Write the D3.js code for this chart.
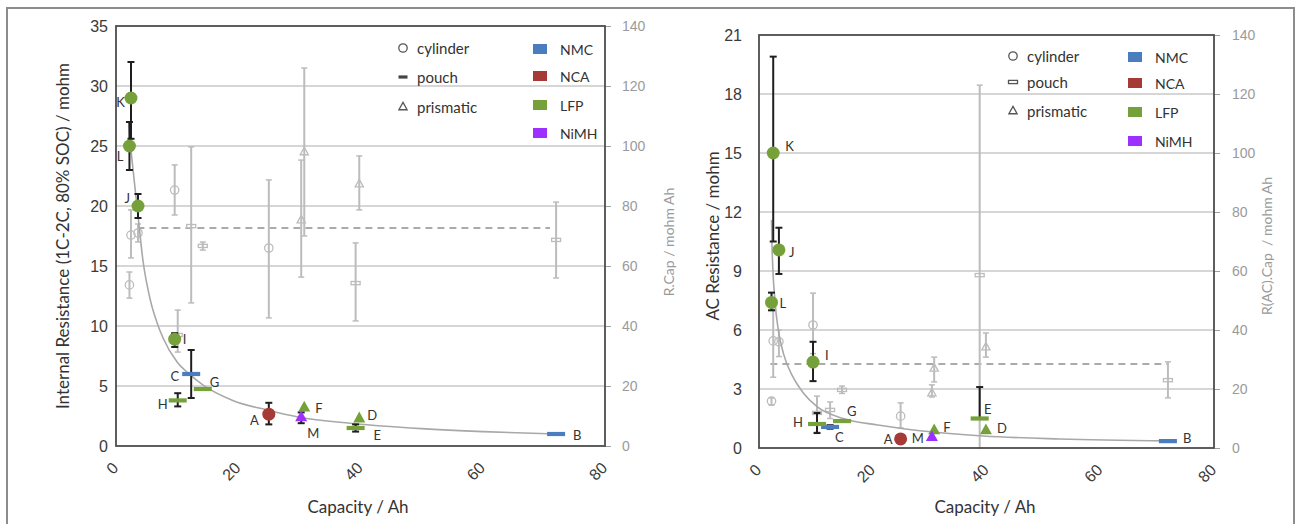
<!DOCTYPE html>
<html>
<head>
<meta charset="utf-8">
<script src="https://cdn.jsdelivr.net/npm/d3@7"></script>
<style>
body { margin: 0; background: #fff; }
svg { font-family: Lato, "Open Sans", sans-serif; }
</style>
</head>
<body>
<div id="chart"></div>
<script>
// cells, chemistry and format
var cells = ["A", "B", "C", "D", "E", "F", "G", "H", "I", "J", "K", "L", "M"];
var chemistry = ["NCA", "NMC", "NMC", "LFP", "LFP", "LFP", "LFP", "LFP", "LFP", "LFP", "LFP", "LFP", "NiMH"];
var format = ["cylinder", "pouch", "pouch", "prismatic", "pouch", "prismatic", "pouch", "pouch", "cylinder", "cylinder", "cylinder", "cylinder", "prismatic"];

// left: internal resistance (1C-2C, 80% SOC)
var irCap = [25, 72, 12.3, 39.8, 39.2, 30.8, 14.2, 10.1, 9.6, 3.6, 2.45, 2.2, 30.3];
var irVal = [2.65, 1.0, 6.0, 2.3, 1.5, 3.2, 4.75, 3.8, 8.9, 20, 29, 25, 2.4];
var irLo = [1.8, null, 4.0, null, 1.2, null, null, 3.3, 8.25, 19, 25.6, 23, 1.9];
var irHi = [3.6, null, 8.0, null, 1.8, null, null, 4.4, 9.4, 21, 32, 27, 2.8];
var irRcap = [66, 68.7, 73.3, 87.3, 54.3, 98, 66.7, 37, 85.3, 71, 70.3, 53.7, 75.3];
var irRcapLo = [42.7, 56, 47.7, 78.7, 41.7, 70, 65.3, 31.3, 77, 68, 62.7, 49.3, 56.3];
var irRcapHi = [88.7, 81.3, 99.7, 96.7, 67.7, 126, 68, 45.3, 93.7, 74, 78.7, 58, 95.3];
var irMean = [3.5, 71, 72.7]; // from capacity, to capacity, mean R.Cap
var irFitCap = [2.1, 2.4, 2.9, 3.6, 4.4, 5.6, 6.7, 7.7, 10, 12.1, 14.2, 19.1, 24.7, 30, 38.3, 50, 60, 72];
var irFitVal = [27, 25, 22.5, 19.2, 15.5, 12.2, 10.3, 9.0, 7.0, 5.95, 5.1, 3.8, 3.0, 2.4, 1.9, 1.45, 1.2, 1.0];

// right: AC resistance
var acCap = [24.9, 71.9, 12.5, 39.9, 38.8, 30.8, 14.6, 10.2, 9.5, 3.5, 2.5, 2.2, 30.4];
var acVal = [0.46, 0.35, 1.07, 0.9, 1.5, 0.9, 1.37, 1.22, 4.37, 10.07, 15, 7.4, 0.56];
var acLo = [null, null, 0.98, null, 1.5, null, null, 0.76, 3.4, 8.85, 10.5, 7.0, null];
var acHi = [null, null, 1.16, null, 3.1, null, null, 1.78, 5.4, 11.2, 19.9, 7.9, null];
var acRcap = [10.8, 23, 12.9, 34.2, 58.6, 27, 19.7, 11.9, 41.7, 36, 36.3, 15.9, 18.6];
var acRcapLo = [6.8, 17, 10, 30.8, 0, 22.4, 18.5, 5.4, 32, 31, 24, 14.5, 17.3];
var acRcapHi = [15.3, 29.2, 15.6, 39, 123, 30.8, 21, 17.6, 52.5, 40, 47, 17, 21.4];
var acMean = [2.0, 71.9, 28.5];
var acFitCap = [2.2, 2.3, 2.8, 3.4, 4.3, 6.0, 7.8, 10.2, 14.8, 20.9, 30.6, 39.4, 52.9, 72];
var acFitVal = [11.6, 10.2, 7.5, 6.0, 4.8, 3.6, 2.8, 2.1, 1.5, 1.17, 0.81, 0.61, 0.46, 0.36];

// axes
var xTicks = [0, 20, 40, 60, 80];
var rTicks = [0, 20, 40, 60, 80, 100, 120, 140];
var irTicks = [0, 5, 10, 15, 20, 25, 30, 35];
var acTicks = [0, 3, 6, 9, 12, 15, 18, 21];

var chemNames = ["NMC", "NCA", "LFP", "NiMH"];
var formatNames = ["cylinder", "pouch", "prismatic"];
var colors = { NMC: "#4a7dbd", NCA: "#a63a37", LFP: "#76a13a", NiMH: "#9d30ff" };

// label offsets (px from marker centre) - layout only
var irLabels = {
	A: [-10, 6, "end"], B: [17, 1, "start"], C: [-12, 2, "end"], D: [8, -3, "start"],
	E: [18, 7, "start"], F: [11, 0, "start"], G: [7, -7, "start"], H: [-10, 4, "end"],
	I: [8, 0, "start"], J: [-8, -8, "end"], K: [-6, 4, "end"], L: [-6, 10, "end"], M: [6, 16, "start"]
};
var acLabels = {
	A: [-8, 0, "end"], B: [15, -3, "start"], C: [5, 10, "start"], D: [11, -2, "start"],
	E: [8, -10, "middle"], F: [9, -3, "start"], G: [5, -10, "start"], H: [-14, -2, "end"],
	I: [12, -7, "start"], J: [10, 2, "start"], K: [12, -7, "start"], L: [8, 1, "start"], M: [-8, 1, "end"]
};

var svg = d3.select("#chart").append("svg")
	.attr("width", 1301)
	.attr("height", 524);

// outer frame
svg.append("rect")
	.attr("x", 7).attr("y", 8)
	.attr("width", 1287).attr("height", 530)
	.attr("fill", "none")
	.attr("stroke", "#8c8c8c")
	.attr("stroke-width", 2);

function drawPanel(p) {
	var g = svg.append("g");
	var x = d3.scaleLinear().domain([0, 80]).range([p.x0, p.x1]);
	var y = d3.scaleLinear().domain([0, p.yMax]).range([p.y1, p.y0]);
	var yr = d3.scaleLinear().domain([0, 140]).range([p.y1, p.y0]);

	// gridlines
	g.append("g").selectAll("line")
		.data(p.yTicks.slice(1, -1))
		.join("line")
		.attr("x1", p.x0).attr("x2", p.x1)
		.attr("y1", d => y(d)).attr("y2", d => y(d))
		.attr("stroke", "#c9c9c9").attr("stroke-width", 1.5);

	// left axis labels
	var yAxis = d3.axisLeft(y).tickValues(p.yTicks).tickSize(0).tickPadding(p.leftPad);
	var ya = g.append("g").attr("transform", "translate(" + p.x0 + ",0)").call(yAxis);
	ya.select(".domain").remove();
	ya.selectAll("text").attr("fill", "#3a3a3a").style("font-size", "16px");

	// right axis
	var rAxis = d3.axisRight(yr).tickValues(rTicks).tickSize(6).tickPadding(p.rightPad - 6);
	var ra = g.append("g").attr("transform", "translate(" + p.x1 + ",0)").call(rAxis);
	ra.select(".domain").remove();
	ra.selectAll("line").attr("stroke", "#a0a0a0");
	ra.selectAll("text").attr("fill", "#9a9a9a").style("font-size", "14px");

	// bottom axis, rotated labels
	var xAxis = d3.axisBottom(x).tickValues(xTicks).tickSize(0);
	var xa = g.append("g").attr("transform", "translate(0," + p.y1 + ")").call(xAxis);
	xa.select(".domain").remove();
	xa.selectAll("text")
		.attr("fill", "#3a3a3a").style("font-size", "16px")
		.attr("text-anchor", "end")
		.attr("dy", null)
		.attr("y", 0)
		.attr("dominant-baseline", "central")
		.attr("transform", "translate(-1,19) rotate(-45)");

	// mean R.Cap dashed line
	g.append("line")
		.attr("x1", x(p.mean[0])).attr("x2", x(p.mean[1]))
		.attr("y1", yr(p.mean[2])).attr("y2", yr(p.mean[2]))
		.attr("stroke", "#ababab").attr("stroke-width", 2)
		.attr("stroke-dasharray", "7,5");

	// grey R.Cap error bars and markers
	var grey = "#bcbcbc";
	cells.forEach(function(c, i) {
		var cx = x(p.cap[i]);
		g.append("line")
			.attr("x1", cx).attr("x2", cx)
			.attr("y1", yr(p.rLo[i])).attr("y2", yr(p.rHi[i]))
			.attr("stroke", grey).attr("stroke-width", 2);
		[p.rLo[i], p.rHi[i]].forEach(function(v) {
			g.append("line")
				.attr("x1", cx - 3).attr("x2", cx + 3)
				.attr("y1", yr(v)).attr("y2", yr(v))
				.attr("stroke", grey).attr("stroke-width", 1.5);
		});
		drawShape(g, format[i], cx, yr(p.rcap[i]), "none", grey, false);
	});

	// fit curve
	var line = d3.line()
		.x(function(d) { return x(d[0]); })
		.y(function(d) { return y(d[1]); })
		.curve(d3.curveMonotoneX);
	g.append("path")
		.datum(d3.zip(p.fitCap, p.fitVal))
		.attr("d", line)
		.attr("fill", "none")
		.attr("stroke", "#a8a8a8")
		.attr("stroke-width", 1.6);

	// black error bars
	cells.forEach(function(c, i) {
		if (p.lo[i] == null) return;
		var cx = x(p.cap[i]);
		g.append("line")
			.attr("x1", cx).attr("x2", cx)
			.attr("y1", y(p.lo[i])).attr("y2", y(p.hi[i]))
			.attr("stroke", "#1e1e1e").attr("stroke-width", 2);
		[p.lo[i], p.hi[i]].forEach(function(v) {
			g.append("line")
				.attr("x1", cx - 3.5).attr("x2", cx + 3.5)
				.attr("y1", y(v)).attr("y2", y(v))
				.attr("stroke", "#1e1e1e").attr("stroke-width", 2);
		});
	});

	// coloured markers and labels
	cells.forEach(function(c, i) {
		var cx = x(p.cap[i]), cy = y(p.val[i]);
		drawShape(g, format[i], cx, cy, colors[chemistry[i]], "none", true);
		var lb = p.labels[c];
		g.append("text")
			.attr("x", cx + lb[0]).attr("y", cy + lb[1])
			.attr("text-anchor", lb[2])
			.attr("dominant-baseline", "central")
			.attr("fill", "#333")
			.style("font-size", "13px")
			.text(c);
	});

	// plot frame
	g.append("rect")
		.attr("x", p.x0).attr("y", p.y0)
		.attr("width", p.x1 - p.x0).attr("height", p.y1 - p.y0)
		.attr("fill", "none")
		.attr("stroke", "#4d4d4d").attr("stroke-width", 1.8);

	// axis titles
	g.append("text")
		.attr("transform", "translate(" + p.titleLeft[0] + "," + p.titleLeft[1] + ") rotate(-90)")
		.attr("text-anchor", "middle").attr("dominant-baseline", "central")
		.attr("fill", "#333").style("font-size", "17px")
		.text(p.yTitle);
	g.append("text")
		.attr("transform", "translate(" + p.titleRight[0] + "," + p.titleRight[1] + ") rotate(-90)")
		.attr("text-anchor", "middle").attr("dominant-baseline", "central")
		.attr("fill", "#9a9a9a").style("font-size", "14px")
		.style("white-space", "pre")
		.text(p.rTitle);
	g.append("text")
		.attr("x", p.titleX[0]).attr("y", p.titleX[1])
		.attr("text-anchor", "middle").attr("dominant-baseline", "central")
		.attr("fill", "#333").style("font-size", "17px")
		.text("Capacity / Ah");

	// legend: formats
	formatNames.forEach(function(f, k) {
		var ly = p.legend.fy[k];
		var fill = (f == "pouch" && p.legend.solidPouch) ? "#444" : "none";
		drawShape(g, f, p.legend.fx, ly, fill, fill == "none" ? "#555" : "none", false);
		g.append("text")
			.attr("x", p.legend.fx + 14).attr("y", ly)
			.attr("dominant-baseline", "central")
			.attr("fill", "#333").style("font-size", "15px")
			.text(f);
	});
	// legend: chemistry
	chemNames.forEach(function(c, k) {
		var ly = p.legend.cy[k];
		g.append("rect")
			.attr("x", p.legend.cx).attr("y", ly - 5)
			.attr("width", 14).attr("height", 10)
			.attr("fill", colors[c]);
		g.append("text")
			.attr("x", p.legend.cx + 27).attr("y", ly)
			.attr("dominant-baseline", "central")
			.attr("fill", "#333").style("font-size", "14px")
			.text(c);
	});
}

// marker shapes: small hollow grey ones, or bigger filled coloured ones
function drawShape(g, f, cx, cy, fill, stroke, big) {
	var el;
	if (f == "cylinder") {
		el = g.append("circle").attr("cx", cx).attr("cy", cy).attr("r", big ? 6.5 : 4.2);
	} else if (f == "pouch") {
		var w = big ? 18 : 9, h = big ? 4.2 : 3.2;
		el = g.append("rect").attr("x", cx - w / 2).attr("y", cy - h / 2).attr("width", w).attr("height", h);
	} else {
		var r = big ? 8 : 5.5;
		el = g.append("path")
			.attr("d", "M" + cx + "," + (cy - r * 0.85) + "L" + (cx + r * 0.75) + "," + (cy + r * 0.5) + "L" + (cx - r * 0.75) + "," + (cy + r * 0.5) + "Z");
	}
	el.attr("fill", fill).attr("stroke", stroke).attr("stroke-width", stroke == "none" ? 0 : 1.3);
}

drawPanel({
	x0: 116, x1: 605, y0: 26, y1: 446, yMax: 35, yTicks: irTicks,
	leftPad: 8, rightPad: 17,
	cap: irCap, val: irVal, lo: irLo, hi: irHi,
	rcap: irRcap, rLo: irRcapLo, rHi: irRcapHi,
	mean: irMean, fitCap: irFitCap, fitVal: irFitVal,
	labels: irLabels,
	yTitle: "Internal Resistance (1C-2C, 80% SOC) / mohm",
	rTitle: "R.Cap / mohm Ah",
	titleLeft: [62, 236], titleRight: [668, 242], titleX: [358, 506],
	legend: { fx: 403, fy: [48, 77, 107], cx: 533, cy: [49, 76, 105, 133], solidPouch: true }
});

drawPanel({
	x0: 759, x1: 1214, y0: 35, y1: 448, yMax: 21, yTicks: acTicks,
	leftPad: 17, rightPad: 18,
	cap: acCap, val: acVal, lo: acLo, hi: acHi,
	rcap: acRcap, rLo: acRcapLo, rHi: acRcapHi,
	mean: acMean, fitCap: acFitCap, fitVal: acFitVal,
	labels: acLabels,
	yTitle: "AC Resistance / mohm",
	rTitle: "R(AC).Cap  / mohm Ah",
	titleLeft: [712, 236], titleRight: [1266, 246], titleX: [985, 506],
	legend: { fx: 1013, fy: [56, 82, 111], cx: 1128, cy: [57, 83, 112, 141], solidPouch: false }
});
</script>
</body>
</html>
